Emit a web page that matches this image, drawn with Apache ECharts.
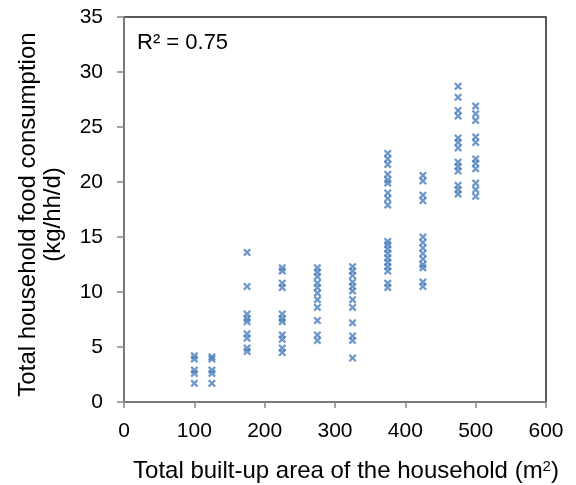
<!DOCTYPE html>
<html><head><meta charset="utf-8">
<script src="https://cdn.jsdelivr.net/npm/echarts@6/dist/echarts.min.js"></script>
<style>html,body{margin:0;padding:0;background:#fff}#c{width:576px;height:485px}</style>
</head><body><div id="c"></div>
<script>
// built-up area groups (m2) and consumption values (kg/hh/d)
const area100 = [4.2, 3.9, 2.9, 2.6, 1.7];
const area125 = [4.1, 3.9, 2.9, 2.6, 1.7];
const area175 = [13.6, 10.5, 8.0, 7.6, 7.3, 6.2, 5.8, 4.9, 4.6];
const area225 = [12.2, 11.9, 10.8, 10.4, 8.0, 7.6, 7.3, 6.1, 5.7, 4.9, 4.5];
const area275 = [12.2, 11.8, 11.4, 10.8, 10.4, 9.9, 9.3, 8.6, 7.4, 6.1, 5.6];
const area325 = [12.3, 11.9, 11.5, 10.9, 10.5, 10.1, 9.3, 8.6, 7.2, 6.0, 5.6, 4.0];
const area375 = [22.6, 22.1, 21.6, 20.7, 20.2, 19.9, 19.0, 18.5, 17.9, 14.6, 14.3, 13.9, 13.5, 13.1, 12.7, 12.3, 11.9, 10.8, 10.4];
const area425 = [20.6, 20.1, 18.8, 18.3, 15.0, 14.5, 14.0, 13.5, 13.0, 12.5, 12.2, 10.9, 10.5];
const area475 = [28.7, 27.7, 26.5, 26.0, 24.0, 23.6, 23.1, 21.8, 21.4, 21.0, 19.7, 19.3, 18.9];
const area500 = [26.9, 26.2, 25.6, 24.1, 23.6, 22.1, 21.7, 21.2, 19.9, 19.3, 18.7];
const groups = [[100, area100], [125, area125], [175, area175], [225, area225], [275, area275],
                [325, area325], [375, area375], [425, area425], [475, area475], [500, area500]];
const xTicks = [0, 100, 200, 300, 400, 500, 600];
const yTicks = [0, 5, 10, 15, 20, 25, 30, 35];
const r2Label = 'R² = 0.75';

const data = [];
groups.forEach(([x, ys]) => ys.forEach(y => data.push([x, y])));

const xPath = 'path://M0,2L2,0L5,3L8,0L10,2L7,5L10,8L8,10L5,7L2,10L0,8L3,5Z';
const chart = echarts.init(document.getElementById('c'));
const font = 'Liberation Sans, Arial, sans-serif';
const axisColor = '#868686';
chart.setOption({
  animation: false,
  grid: { left: 124, right: 30, top: 17, bottom: 83, show: true, borderColor: '#222', borderWidth: 1.5,
          containLabel: false, outerBoundsMode: 'none' },
  xAxis: {
    type: 'value', min: xTicks[0], max: xTicks[xTicks.length - 1], interval: 100,
    axisLine: { show: true, lineStyle: { color: axisColor, width: 1.5 } },
    axisTick: { show: true, inside: false, length: 6, lineStyle: { color: axisColor, width: 1.5 } },
    splitLine: { show: false },
    axisLabel: { color: '#000', fontSize: 21, fontFamily: font, margin: 19 },
    name: '{a|Total built-up area of the household (m}{s|2}{a|)}',
    nameLocation: 'middle', nameGap: 57,
    nameTextStyle: { padding: [0, 0, 0, 22], rich: { a: { fontSize: 24, fontFamily: font, color: '#000' }, s: { fontSize: 15, fontFamily: font, color: '#000', verticalAlign: 'top', padding: [0, 0, 10, 0] } } }
  },
  yAxis: {
    type: 'value', min: yTicks[0], max: yTicks[yTicks.length - 1], interval: 5,
    axisLine: { show: true, lineStyle: { color: axisColor, width: 1.5 } },
    axisTick: { show: true, inside: false, length: 7, lineStyle: { color: axisColor, width: 1.5 } },
    splitLine: { show: false },
    axisLabel: { color: '#000', fontSize: 21, fontFamily: font, margin: 21 },
    name: 'Total household food consumption\n(kg/hh/d)',
    nameLocation: 'middle', nameGap: 58, nameRotate: 90,
    nameTextStyle: { fontSize: 24, fontFamily: font, color: '#000', lineHeight: 25, padding: [0, 10, 0, 0] }
  },
  graphic: [{ type: 'text', left: 137, top: 32, style: { text: r2Label, fontSize: 22, fontFamily: font, fill: '#000' } }],
  series: [{
    type: 'scatter', data: data, symbol: xPath, symbolSize: 8,
    itemStyle: { color: '#4a7ebb' }
  }]
});
</script></body></html>
